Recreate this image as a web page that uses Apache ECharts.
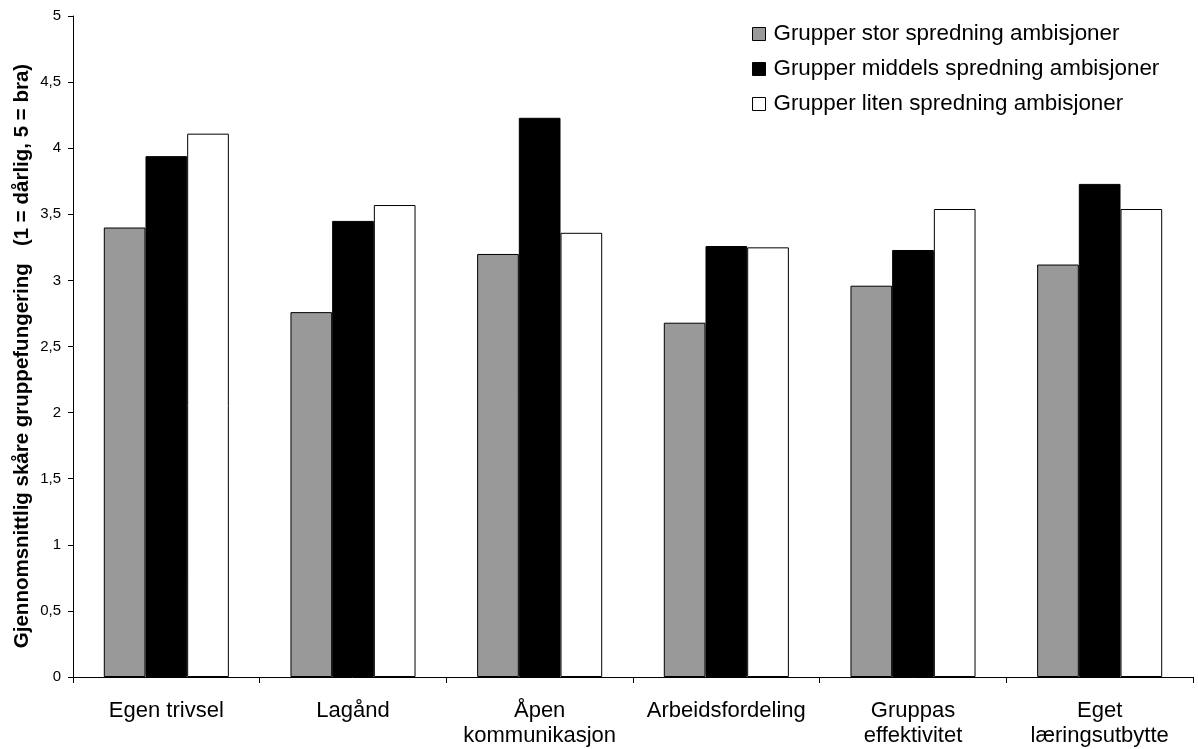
<!DOCTYPE html>
<html><head><meta charset="utf-8">
<script src="https://cdn.jsdelivr.net/npm/echarts@6/dist/echarts.min.js"></script>
<style>html,body{margin:0;padding:0;background:#fff}#c{width:1198px;height:749px}</style>
</head><body><div id="c"></div>
<script>
const categories = ['Egen trivsel', 'Lagånd', 'Åpen\nkommunikasjon', 'Arbeidsfordeling', 'Gruppas\neffektivitet', 'Eget\nlæringsutbytte'];
const seriesNames = ['Grupper stor spredning ambisjoner', 'Grupper middels spredning ambisjoner', 'Grupper liten spredning ambisjoner'];
const storValues = [3.40, 2.76, 3.20, 2.68, 2.96, 3.12];
const middelsValues = [3.94, 3.45, 4.23, 3.26, 3.23, 3.73];
const litenValues = [4.11, 3.57, 3.36, 3.25, 3.54, 3.54];
const yAxisTitle = 'Gjennomsnittlig skåre gruppefungering   (1 = dårlig, 5 = bra)';

const font = 'Liberation Sans, Arial, sans-serif';
const chart = echarts.init(document.getElementById('c'));
const mk = (name, data, color) => ({
  name, type: 'bar', data, barGap: '0%', barCategoryGap: '33%',
  itemStyle: { color, borderColor: '#000', borderWidth: 1 },
  emphasis: { disabled: true }
});
chart.setOption({
  animation: false,
  textStyle: { fontFamily: font, color: '#000' },
  grid: { left: 73, right: 5, top: 16, bottom: 72 },
  legend: {
    orient: 'vertical', left: 747, top: 18, itemWidth: 13, itemHeight: 13, itemGap: 13,
    icon: 'rect',
    textStyle: { fontSize: 22.4, lineHeight: 22, color: '#000', fontFamily: font, padding: [0, 0, 0, 3] },
    itemStyle: { borderColor: '#000', borderWidth: 1 },
    data: seriesNames
  },
  xAxis: {
    type: 'category', data: categories,
    axisLine: { lineStyle: { color: '#000', width: 1 } },
    axisTick: { show: true, length: 6, lineStyle: { color: '#000' } },
    axisLabel: { interval: 0, fontSize: 22, color: '#000', margin: 21, lineHeight: 25, fontFamily: font }
  },
  yAxis: {
    type: 'value', min: 0, max: 5, interval: 0.5,
    splitLine: { show: false },
    axisLine: { show: true, lineStyle: { color: '#000', width: 1 } },
    axisTick: { show: true, length: 5, lineStyle: { color: '#000' } },
    axisLabel: { fontSize: 15, color: '#000', margin: 12, fontFamily: font,
      formatter: v => String(v).replace('.', ',') }
  },
  graphic: [{
    type: 'text', x: 22, y: 356, rotation: Math.PI / 2,
    style: { text: yAxisTitle, fontSize: 20.5, fontWeight: 'bold', fontFamily: font, fill: '#000',
      align: 'center', verticalAlign: 'middle' }
  }],
  series: [
    mk(seriesNames[0], storValues, '#999999'),
    mk(seriesNames[1], middelsValues, '#000000'),
    mk(seriesNames[2], litenValues, '#ffffff')
  ]
});
</script></body></html>
